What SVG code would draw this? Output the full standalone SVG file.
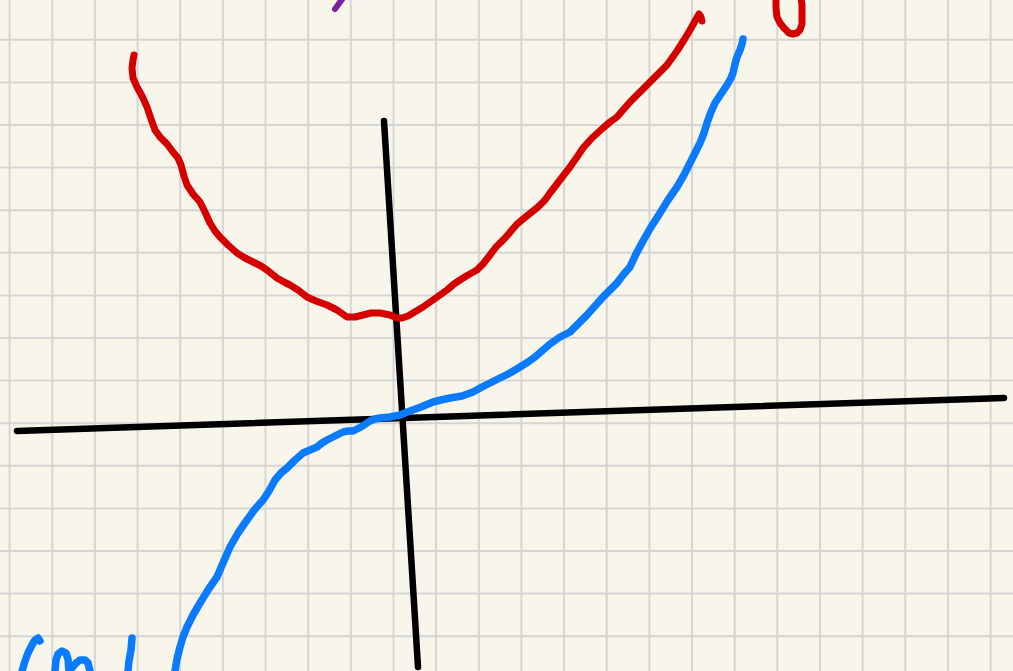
<svg xmlns="http://www.w3.org/2000/svg" width="1013" height="671" viewBox="0 0 1013 671">
<style>
.grid line{stroke:#d5d5d5;stroke-width:2}
.ink{fill:none;stroke-linecap:round;stroke-linejoin:round}
.red{stroke:#d40000;stroke-width:7}
.blue{stroke:#0a7bff;stroke-width:7.5}
.black{stroke:#000;stroke-width:6.5}
.purple{stroke:#7b229e;stroke-width:6}
</style>
<rect width="1013" height="671" fill="#f8f6ea"/>
<g class="grid" id="grid">
<line x1="9.6" y1="0" x2="9.6" y2="671"/><line x1="52.3" y1="0" x2="52.3" y2="671"/><line x1="94.9" y1="0" x2="94.9" y2="671"/><line x1="137.6" y1="0" x2="137.6" y2="671"/><line x1="180.2" y1="0" x2="180.2" y2="671"/><line x1="222.9" y1="0" x2="222.9" y2="671"/><line x1="265.5" y1="0" x2="265.5" y2="671"/><line x1="308.2" y1="0" x2="308.2" y2="671"/><line x1="350.8" y1="0" x2="350.8" y2="671"/><line x1="393.5" y1="0" x2="393.5" y2="671"/><line x1="436.1" y1="0" x2="436.1" y2="671"/><line x1="478.8" y1="0" x2="478.8" y2="671"/><line x1="521.4" y1="0" x2="521.4" y2="671"/><line x1="564.1" y1="0" x2="564.1" y2="671"/><line x1="606.7" y1="0" x2="606.7" y2="671"/><line x1="649.4" y1="0" x2="649.4" y2="671"/><line x1="692" y1="0" x2="692" y2="671"/><line x1="734.7" y1="0" x2="734.7" y2="671"/><line x1="777.3" y1="0" x2="777.3" y2="671"/><line x1="820" y1="0" x2="820" y2="671"/><line x1="862.6" y1="0" x2="862.6" y2="671"/><line x1="905.3" y1="0" x2="905.3" y2="671"/><line x1="947.9" y1="0" x2="947.9" y2="671"/><line x1="990.6" y1="0" x2="990.6" y2="671"/>
<line x1="0" y1="39.8" x2="1013" y2="39.8"/><line x1="0" y1="82.4" x2="1013" y2="82.4"/><line x1="0" y1="125" x2="1013" y2="125"/><line x1="0" y1="167.6" x2="1013" y2="167.6"/><line x1="0" y1="210.2" x2="1013" y2="210.2"/><line x1="0" y1="252.8" x2="1013" y2="252.8"/><line x1="0" y1="295.4" x2="1013" y2="295.4"/><line x1="0" y1="338" x2="1013" y2="338"/><line x1="0" y1="380.6" x2="1013" y2="380.6"/><line x1="0" y1="423.2" x2="1013" y2="423.2"/><line x1="0" y1="465.8" x2="1013" y2="465.8"/><line x1="0" y1="508.4" x2="1013" y2="508.4"/><line x1="0" y1="551" x2="1013" y2="551"/><line x1="0" y1="593.6" x2="1013" y2="593.6"/><line x1="0" y1="636.2" x2="1013" y2="636.2"/>
</g>
<g id="axes">
<path class="ink black" d="M17,431 L1004,398"/>
<path class="ink black" d="M384,121 L418,667"/>
</g>
<g id="red-curve">
<path class="ink red" d="M134,55 L133,60 L132,68 L133,78 L137,87 L142,96 L147,107 L151,119 L155,130 L160,137 L167,144 L173,152 L178,158 L181,165 L184,176 L187,185 L193,194 L200,202 L205,212 L210,223 L215,231 L220,237 L228,245 L237,253 L245,258 L253,262 L261,266 L267,270 L272,274 L277,278 L284,282 L290,285 L298,290 L307,297 L316,301 L327,305 L337,310 L347,317 L355,317 L363,315 L371,313 L380,313 L390,315 L397,318 L402,318 L408,316 L413,313 L423,307 L433,300 L440,295 L447,290 L454,284 L460,280 L468,275 L477,270 L483,264 L490,255 L496,247 L506,237 L517,224 L528,215 L538,207 L545,200 L550,193 L560,180 L570,167 L577,157 L583,148 L592,138 L603,128 L610,122 L617,117 L623,110 L630,102 L640,92 L650,82 L659,73 L667,65 L672,58 L677,51 L684,40 L690,30 L695,21 L699,14 L701,17 L702,21"/>
</g>
<g id="blue-curve">
<path class="ink blue" d="M175,671 L177,659 L180,647 L183,637 L187,627 L193,615 L200,603 L208,590 L217,577 L223,563 L230,547 L238,533 L247,520 L255,509 L263,500 L269,491 L275,480 L281,473 L287,468 L295,460 L303,453 L310,450 L317,447 L322,443 L327,440 L335,436 L343,432 L348,431 L353,431 L361,427 L370,421 L375,419 L380,418 L390,417 L400,415 L410,411 L421,407 L433,402 L441,400 L450,398 L462,396 L473,392 L482,387 L490,383 L500,378 L510,373 L520,367 L528,362 L535,357 L543,350 L550,344 L560,337 L570,332 L578,324 L587,315 L595,306 L603,297 L610,290 L617,283 L623,275 L630,267 L636,254 L643,241 L651,227 L660,213 L668,200 L677,187 L684,175 L690,163 L695,153 L700,143 L704,133 L707,123 L711,112 L715,103 L721,94 L727,85 L731,78 L733,73 L735,64 L737,57 L740,50 L742,44 L743,39"/>
</g>
<g id="handwriting">
<path class="ink purple" d="M335,9 L343,-2"/>
<path class="ink red" d="M776,-2 L776,8 L777,17 L780,23 L784,28 L789,33 L793,34 L797,33 L800,30 L802,24 L802,15 L802,5 L801,-2"/>
<path class="ink blue" d="M40,641 L38,638 L35,640 L32,645 L28,653 L25,661 L22,671"/>
<path class="ink blue" d="M55,671 L56,660 L58,654 L62,651 L66,653 L68,659 L69,671"/>
<path class="ink blue" d="M72,668 L76,663 L80,660 L85,660 L88,663 L90,671"/>
<path class="ink blue" d="M132,638 L131,650 L129,661 L128,671"/>
</g>
</svg>
